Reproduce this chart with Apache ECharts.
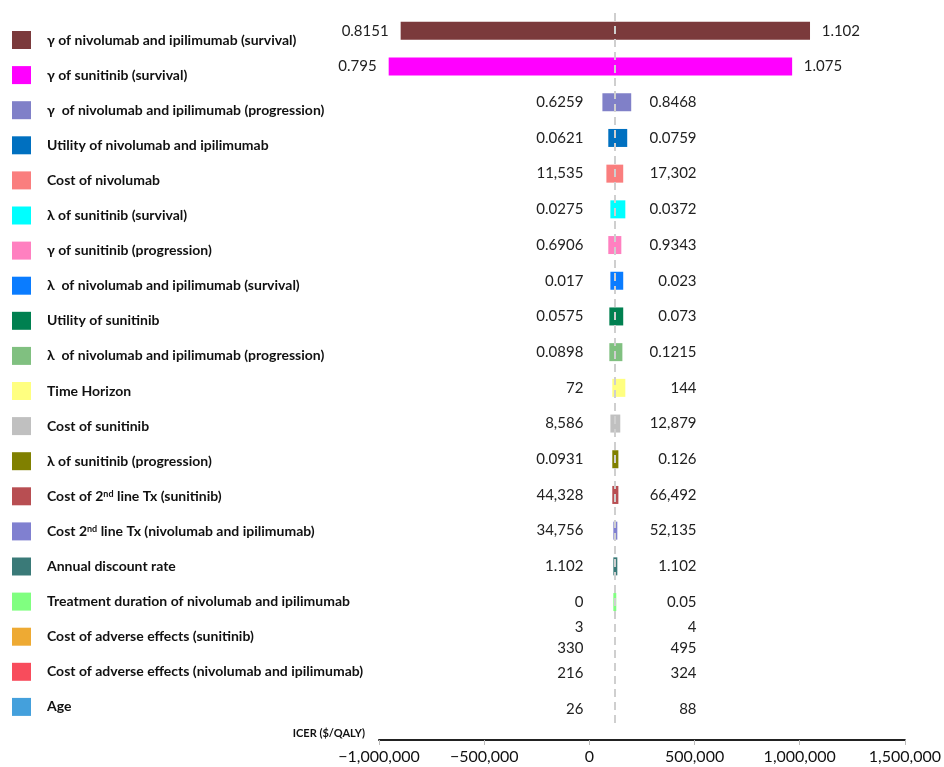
<!DOCTYPE html>
<html>
<head>
<meta charset="utf-8">
<title>Tornado diagram – ICER</title>
<script src="https://cdn.jsdelivr.net/npm/echarts@6/dist/echarts.min.js"></script>
<style>
  html, body { margin: 0; padding: 0; background: #fff; }
  #chart { width: 944px; height: 767px; }
</style>
</head>
<body>
<div id="chart"></div>
<script>
// parameters, top to bottom
const paramNames = [
  'γ of nivolumab and ipilimumab (survival)',
  'γ of sunitinib (survival)',
  'γ  of nivolumab and ipilimumab (progression)',
  'Utility of nivolumab and ipilimumab',
  'Cost of nivolumab',
  'λ of sunitinib (survival)',
  'γ of sunitinib (progression)',
  'λ  of nivolumab and ipilimumab (survival)',
  'Utility of sunitinib',
  'λ  of nivolumab and ipilimumab (progression)',
  'Time Horizon',
  'Cost of sunitinib',
  'λ of sunitinib (progression)',
  'Cost of 2nd line Tx (sunitinib)',
  'Cost 2nd line Tx (nivolumab and ipilimumab)',
  'Annual discount rate',
  'Treatment duration of nivolumab and ipilimumab',
  'Cost of adverse effects (sunitinib)',
  'Cost of adverse effects (nivolumab and ipilimumab)',
  'Age'
]

const barColors = [
  '#7b3a3c', '#ff00ff', '#8080c8', '#0070c0', '#fa7e7e',
  '#00ffff', '#ff80c0', '#0a7cff', '#008050', '#80c080',
  '#ffff80', '#c0c0c0', '#808000', '#b84e52', '#8080d0',
  '#3a7a78', '#80ff80', '#eeaa33', '#f84c5c', '#44a0dc'
]

// ICER ($/QALY) at the low / high end of each parameter range
const lowIcer = [
  -897000, -954000, 62000, 90000, 81000,
  100000, 90000, 100000, 95000, 95000,
  109000, 100000, 109000, 109000, 114000,
  114000, 114000, 123000, 123000, 123000
]
const highIcer = [
  1049000, 964000, 199000, 180000, 161000,
  171000, 152000, 161000, 161000, 157000,
  171000, 147000, 138000, 138000, 133000,
  133000, 128000, 123000, 123000, 123000
]

// parameter values printed beside the bars
const lowLabels = [
  '0.8151', '0.795', '0.6259', '0.0621', '11,535',
  '0.0275', '0.6906', '0.017', '0.0575', '0.0898',
  '72', '8,586', '0.0931', '44,328', '34,756',
  '1.102', '0', '3\n330', '216', '26'
]
const highLabels = [
  '1.102', '1.075', '0.8468', '0.0759', '17,302',
  '0.0372', '0.9343', '0.023', '0.073', '0.1215',
  '144', '12,879', '0.126', '66,492', '52,135',
  '1.102', '0.05', '4\n495', '324', '88'
]

const baseIcer = 123000
const xMin = -1000000
const xMax = 1500000
const xStep = 500000

const chart = echarts.init(document.getElementById('chart'))

const fmtIcer = (v) => (v < 0 ? '\u2212' : '') + Math.abs(v).toLocaleString('en-US')

const labelFont = { fontFamily: 'Lato', fontSize: 15, fill: '#222', lineHeight: 21 }

const renderBar = (info, api) => {
  const row = api.value(2)
  const p0 = api.coord([api.value(0), row])
  const p1 = api.coord([api.value(1), row])
  const zero = api.coord([0, row])
  const mid = api.coord([xStep, row])
  const h = 18
  const y = p0[1]
  return {
    type: 'group',
    children: [
      {
        type: 'rect',
        shape: { x: p0[0], y: y - h / 2, width: p1[0] - p0[0], height: h },
        style: { fill: api.visual('color') }
      },
      {
        type: 'text',
        x: Math.min(p0[0] - 12, zero[0] - 6),
        y: y,
        style: Object.assign({ text: lowLabels[row], align: 'right', verticalAlign: 'middle' }, labelFont)
      },
      {
        type: 'text',
        x: Math.max(p1[0] + 50, mid[0] + 2),
        y: y,
        style: Object.assign({ text: highLabels[row], align: 'right', verticalAlign: 'middle' }, labelFont)
      }
    ]
  }
}

const series = paramNames.map((name, i) => ({
  name,
  type: 'custom',
  renderItem: renderBar,
  encode: { x: [0, 1], y: 2 },
  itemStyle: { color: barColors[i] },
  silent: true,
  data: [[lowIcer[i], highIcer[i], i]]
}))

// base-case ICER
series.push({
  type: 'line',
  data: [],
  z: 5,
  markLine: {
    silent: true,
    symbol: 'none',
    label: { show: false },
    lineStyle: { type: [8, 5], color: '#cfcfcf', width: 2 },
    data: [{ xAxis: baseIcer }]
  }
})

chart.setOption({
  animation: false,
  grid: { left: 379, right: 38, top: 13, bottom: 40 },
  legend: {
    orient: 'vertical',
    left: 7,
    top: 26,
    icon: 'rect',
    itemWidth: 19,
    itemHeight: 18,
    itemGap: 17.1,
    selectedMode: false,
    data: paramNames,
    formatter: (n) => n.replace('2nd', '2{sup|nd}'),
    textStyle: {
      fontFamily: 'Lato',
      fontWeight: 'bold',
      fontSize: 14,
      color: '#111',
      padding: [0, 0, 0, 11],
      rich: {
        sup: { fontFamily: 'Lato', fontWeight: 'bold', fontSize: 9, color: '#111', verticalAlign: 'top' }
      }
    }
  },
  xAxis: {
    type: 'value',
    min: xMin,
    max: xMax,
    interval: xStep,
    offset: 13,
    name: 'ICER ($/QALY)',
    nameLocation: 'start',
    nameGap: 14,
    nameTextStyle: { fontFamily: 'Lato', fontWeight: 'bold', fontSize: 11, color: '#111', verticalAlign: 'bottom', padding: [0, 0, 1, 0] },
    axisLine: { show: true, lineStyle: { color: '#222', width: 2 } },
    axisTick: { show: true, length: 5, lineStyle: { color: '#bbb' } },
    splitLine: { show: false },
    axisLabel: { fontFamily: 'Lato', fontSize: 16, color: '#111', margin: 9, formatter: fmtIcer }
  },
  yAxis: {
    type: 'category',
    data: paramNames,
    inverse: true,
    show: false
  },
  series
})
</script>
</body>
</html>
